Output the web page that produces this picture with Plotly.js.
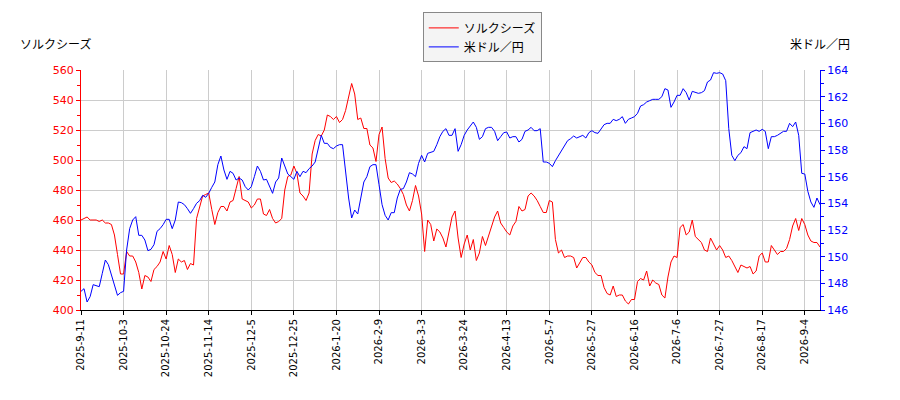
<!DOCTYPE html>
<html>
<head>
<meta charset="utf-8">
<script src="https://cdn.plot.ly/plotly-3.0.1.min.js"></script>
<style>
  body { margin: 0; background: #fff; }
  #myDiv { width: 900px; height: 400px; }
</style>
</head>
<body>
<div id="myDiv"></div>
<script>
// trading-day tick labels, one every 14 sessions
var tickLabels = ["2025-9-11", "2025-10-3", "2025-10-24", "2025-11-14", "2025-12-5", "2025-12-25",
    "2026-1-20", "2026-2-9", "2026-3-3", "2026-3-24", "2026-4-13", "2026-5-7",
    "2026-5-27", "2026-6-16", "2026-7-6", "2026-7-27", "2026-8-17", "2026-9-4"];
var tickStep = 14;

// ソルクシーズ (left axis, yen)
var stock = [
    460, 461, 462, 460, 460, 460, 459, 460, 458, 458,
    457, 450, 437, 424, 424, 439, 436, 436, 432, 425,
    414, 423, 422, 419, 427, 429, 432, 439, 434, 443,
    437, 425, 434, 432, 433, 427, 431, 430, 461, 469,
    476, 477, 478, 467, 457, 465, 469, 469, 466, 472,
    473, 481, 489, 474, 473, 472, 468, 470, 474, 474,
    464, 463, 467, 461, 458, 459, 461, 480, 489, 490,
    496, 491, 478, 476, 473, 478, 504, 513, 517, 516,
    520, 530, 529, 527, 529, 525, 527, 533, 542, 551,
    544, 527, 528, 521, 521, 510, 508, 499, 517, 522,
    501, 488, 485, 486, 484, 481, 477, 470, 466, 473,
    483, 476, 464, 439, 460, 457, 446, 454, 452, 448,
    442, 453, 462, 466, 448, 435, 444, 450, 440, 447,
    433, 438, 449, 443, 449, 455, 462, 466, 458, 455,
    452, 450, 456, 459, 469, 466, 467, 476, 478, 476,
    473, 469, 465, 465, 473, 472, 447, 438, 440, 435,
    436, 436, 435, 428, 432, 435, 435, 432, 430, 425,
    423, 423, 415, 411, 410, 416, 409, 410, 410, 406,
    404, 407, 407, 419, 421, 420, 426, 416, 420, 418,
    417, 410, 408, 422, 432, 436, 435, 455, 457, 450,
    452, 460, 449, 447, 445, 440, 439, 448, 444, 440,
    443, 440, 435, 436, 433, 429, 425, 430, 429, 428,
    429, 424, 426, 436, 438, 432, 432, 443, 440, 437,
    439, 439, 441, 447, 456, 461, 453, 461, 457, 450,
    446, 445, 445, 442
];

// 米ドル／円 (right axis)
var usdjpy = [
    147.4, 147.6, 146.6, 147.0, 147.9, 147.8, 147.75, 148.75, 149.75, 149.4,
    148.6, 147.75, 147.1, 147.3, 147.4, 150.5, 152.1, 152.75, 153.0, 151.6,
    151.6, 151.25, 150.45, 150.55, 150.9, 151.9, 152.1, 152.4, 152.8, 152.8,
    152.1, 152.75, 154.1, 154.05, 153.9, 153.6, 153.25, 153.6, 154.0, 154.2,
    154.6, 154.45, 154.75, 155.2, 155.6, 156.9, 157.55, 156.5, 155.8, 156.4,
    156.25, 155.75, 155.9, 155.75, 155.25, 155.0, 155.25, 156.0, 156.8, 156.4,
    155.75, 155.8, 155.2, 154.75, 155.6, 155.9, 157.4, 156.75, 156.2, 156.0,
    155.8, 156.4, 156.0, 156.4, 156.3, 156.6, 156.8, 157.1, 158.0, 159.1,
    158.5, 158.5, 158.2, 158.1, 158.3, 158.4, 158.4, 156.25, 154.4, 152.9,
    153.5, 153.2, 154.4, 155.6, 156.0, 156.75, 156.9, 156.9, 155.4, 153.9,
    153.1, 152.75, 153.3, 153.3, 154.4, 155.05, 155.1, 155.6, 156.3, 156.2,
    156.0, 157.0, 157.6, 157.1, 157.75, 157.8, 157.9, 158.4, 159.0, 159.4,
    159.6, 159.1, 159.1, 159.6, 157.9, 158.4, 159.1, 159.5, 159.8, 160.1,
    159.7, 158.8, 159.0, 159.6, 159.7, 159.7, 159.4, 158.7, 159.0, 159.3,
    159.35, 158.9, 159.0, 159.0, 158.6, 158.8, 159.4, 159.5, 159.7, 159.45,
    159.45, 159.6, 157.1, 157.1, 157.0, 156.75, 157.2, 157.6, 158.0, 158.4,
    158.7, 158.85, 159.05, 158.9, 159.0, 159.1, 158.9, 159.3, 159.45, 159.3,
    159.25, 159.6, 159.9, 160.0, 160.0, 160.3, 160.2, 160.3, 160.5, 160.0,
    160.3, 160.4, 160.5, 160.75, 161.3, 161.4, 161.6, 161.7, 161.8, 161.8,
    161.8, 162.0, 162.6, 162.5, 161.2, 161.6, 162.1, 162.1, 162.6, 162.3,
    161.75, 162.4, 162.3, 162.25, 162.3, 162.45, 163.1, 163.25, 163.8, 163.75,
    163.8, 163.7, 163.2, 159.6, 157.6, 157.2, 157.6, 157.8, 158.25, 158.1,
    159.3, 159.4, 159.5, 159.4, 159.55, 159.4, 158.1, 159.0, 159.0, 159.1,
    159.25, 159.4, 159.4, 160.0, 159.75, 160.1, 159.1, 156.25, 156.2, 154.9,
    154.1, 153.7, 154.4, 153.9
];

var idx = stock.map(function (v, i) { return i; });
var tickPos = tickLabels.map(function (t, i) { return i * tickStep; });

var jpFont = '"Noto Sans CJK JP", "DejaVu Sans", sans-serif';
var numFont = '"DejaVu Sans", sans-serif';

var trace1 = {
    x: idx,
    y: stock,
    name: 'ソルクシーズ',
    type: 'scatter',
    mode: 'lines',
    line: {color: '#ff0000', width: 1}
};

var trace2 = {
    x: idx,
    y: usdjpy,
    name: '米ドル／円',
    type: 'scatter',
    mode: 'lines',
    yaxis: 'y2',
    line: {color: '#0000ff', width: 1}
};

var layout = {
    width: 900,
    height: 400,
    margin: {l: 81, r: 80, t: 70, b: 90, pad: 0},
    paper_bgcolor: '#ffffff',
    plot_bgcolor: '#ffffff',
    font: {family: numFont, size: 11, color: '#000'},
    showlegend: true,
    legend: {
        x: 0.543, xanchor: 'center',
        y: 1.24, yanchor: 'top',
        bgcolor: '#f4f4f4',
        bordercolor: '#888888',
        borderwidth: 1,
        font: {family: jpFont, size: 12, color: '#000'},
        tracegroupgap: 0
    },
    xaxis: {
        range: [0, stock.length - 1],
        tickmode: 'array',
        tickvals: tickPos,
        ticktext: tickLabels,
        tickangle: -90,
        ticks: 'outside',
        ticklen: 4,
        tickcolor: '#000',
        showline: true,
        linecolor: '#000',
        linewidth: 1,
        showgrid: true,
        gridcolor: '#cccccc',
        zeroline: false,
        tickfont: {family: numFont, size: 10, color: '#000'}
    },
    yaxis: {
        range: [400, 560],
        dtick: 20,
        ticks: 'outside',
        ticklen: 4,
        tickcolor: '#ff0000',
        showline: true,
        linecolor: '#ff0000',
        linewidth: 1,
        showgrid: true,
        gridcolor: '#cccccc',
        zeroline: false,
        tickfont: {family: numFont, size: 11, color: '#ff0000'},
        minor: {dtick: 10, ticks: 'outside', ticklen: 3, tickcolor: '#ff0000', showgrid: false}
    },
    yaxis2: {
        overlaying: 'y',
        side: 'right',
        range: [146, 164],
        dtick: 2,
        ticks: 'outside',
        ticklen: 4,
        tickcolor: '#0000ff',
        showline: true,
        linecolor: '#0000ff',
        linewidth: 1,
        showgrid: false,
        zeroline: false,
        tickfont: {family: numFont, size: 11, color: '#0000ff'},
        minor: {dtick: 1, ticks: 'outside', ticklen: 3, tickcolor: '#0000ff', showgrid: false}
    },
    annotations: [
        {
            text: 'ソルクシーズ', xref: 'paper', yref: 'paper',
            x: -0.085, y: 1.067, xanchor: 'left', yanchor: 'bottom', showarrow: false,
            font: {family: jpFont, size: 12, color: '#000'}
        },
        {
            text: '米ドル／円', xref: 'paper', yref: 'paper',
            x: 1.043, y: 1.067, xanchor: 'right', yanchor: 'bottom', showarrow: false,
            font: {family: jpFont, size: 12, color: '#000'}
        }
    ]
};

Plotly.newPlot('myDiv', [trace1, trace2], layout, {displayModeBar: false, staticPlot: true});
</script>
</body>
</html>
